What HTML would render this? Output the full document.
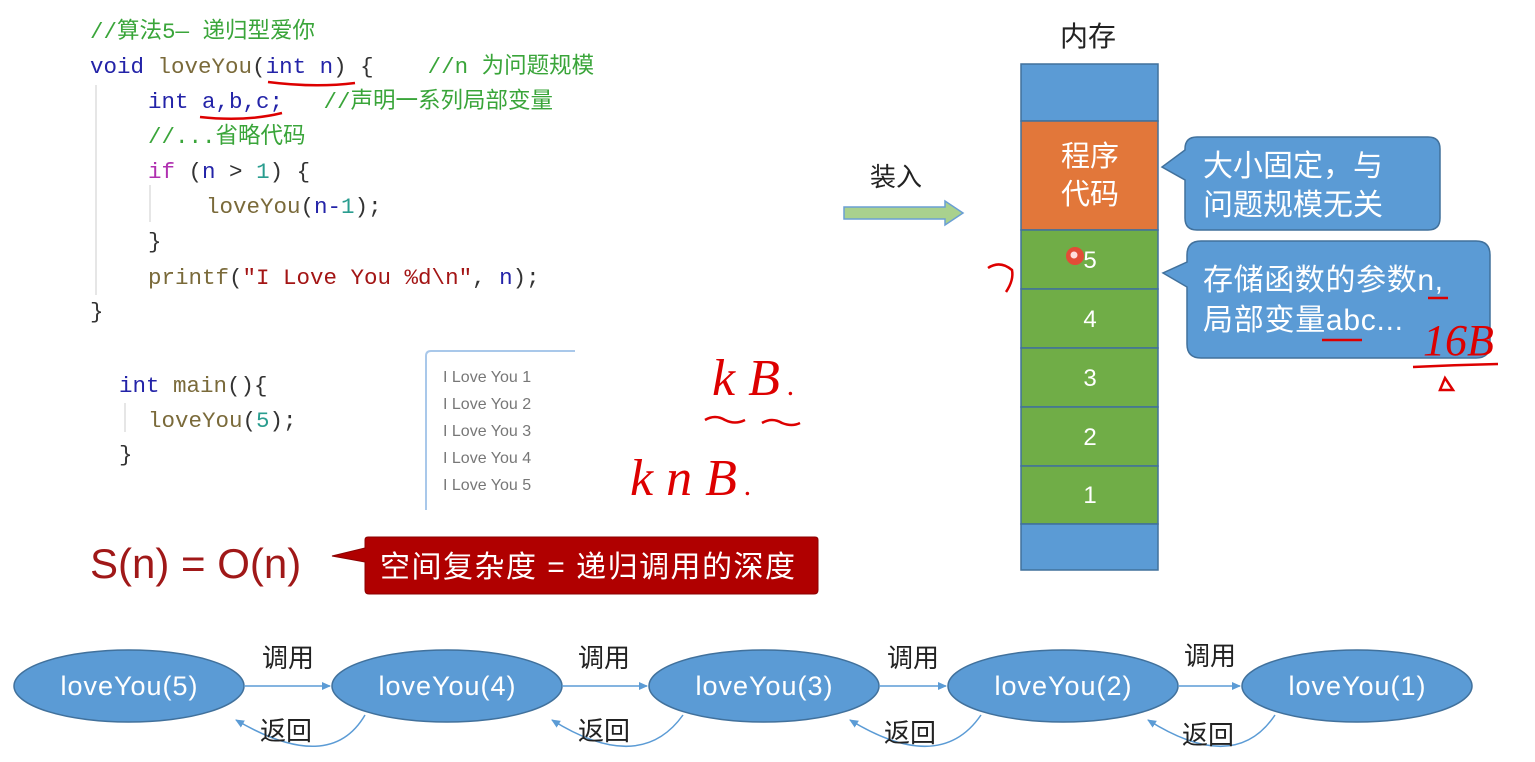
<!DOCTYPE html>
<html><head><meta charset="utf-8"><style>
body{margin:0;background:#fff;width:1535px;height:762px;overflow:hidden}
svg{display:block}
.c{font-family:"Liberation Mono","Noto Sans CJK SC",monospace;font-size:22.5px}
.s{font-family:"Liberation Sans","Noto Sans CJK SC",sans-serif}
</style></head><body>
<svg width="1535" height="762" xmlns="http://www.w3.org/2000/svg">
<defs><marker id="a" markerWidth="10" markerHeight="10" refX="8" refY="5" orient="auto" markerUnits="userSpaceOnUse"><path d="M0,1 L9,5 L0,9 z" fill="#5b9bd5"/></marker></defs>
<g class="c">
<text x="90" y="38" fill="#3aa53a">//算法5— 递归型爱你</text>
<text x="90" y="73"><tspan fill="#2323a8">void</tspan>&#160;<tspan fill="#7a6a3a">loveYou</tspan><tspan fill="#333">(</tspan><tspan fill="#2323a8">int&#160;n</tspan><tspan fill="#333">)&#160;{</tspan>&#160;&#160;&#160;&#160;<tspan fill="#3aa53a">//n 为问题规模</tspan></text>
<text x="148" y="108"><tspan fill="#2323a8">int&#160;a,b,c;</tspan>&#160;&#160;&#160;<tspan fill="#3aa53a">//声明一系列局部变量</tspan></text>
<text x="148" y="143" fill="#3aa53a">//...省略代码</text>
<text x="148" y="178"><tspan fill="#b030b0">if</tspan><tspan fill="#333">&#160;(</tspan><tspan fill="#2323a8">n</tspan><tspan fill="#333">&#160;&gt;&#160;</tspan><tspan fill="#2a9d8f">1</tspan><tspan fill="#333">)&#160;{</tspan></text>
<text x="206" y="213"><tspan fill="#7a6a3a">loveYou</tspan><tspan fill="#333">(</tspan><tspan fill="#2323a8">n-</tspan><tspan fill="#2a9d8f">1</tspan><tspan fill="#333">);</tspan></text>
<text x="148" y="248" fill="#333">}</text>
<text x="148" y="284"><tspan fill="#7a6a3a">printf</tspan><tspan fill="#333">(</tspan><tspan fill="#a31515">"I&#160;Love&#160;You&#160;%d\n"</tspan><tspan fill="#333">,&#160;</tspan><tspan fill="#2323a8">n</tspan><tspan fill="#333">);</tspan></text>
<text x="90" y="318" fill="#333">}</text>
<text x="119" y="392"><tspan fill="#2323a8">int</tspan>&#160;<tspan fill="#7a6a3a">main</tspan><tspan fill="#333">(){</tspan></text>
<text x="148" y="427"><tspan fill="#7a6a3a">loveYou</tspan><tspan fill="#333">(</tspan><tspan fill="#2a9d8f">5</tspan><tspan fill="#333">);</tspan></text>
<text x="119" y="461" fill="#333">}</text>
</g>
<g stroke="#ddd" stroke-width="1.5"><line x1="96" y1="85" x2="96" y2="295"/><line x1="150" y1="185" x2="150" y2="222"/><line x1="125" y1="403" x2="125" y2="432"/></g>
<g stroke="#d00" stroke-width="2.5" fill="none"><path d="M268,82 Q315,88 355,83"/><path d="M200,117 Q245,122 282,113"/></g>
<path d="M426,510 V356 Q426,351 431,351 H575" stroke="#a9c8ea" stroke-width="2" fill="none"/>
<g class="s" font-size="16" fill="#777">
<text x="443" y="382">I Love You 1</text><text x="443" y="409">I Love You 2</text><text x="443" y="436">I Love You 3</text><text x="443" y="463">I Love You 4</text><text x="443" y="490">I Love You 5</text></g>
<g fill="#d00" font-family="Liberation Serif,serif" font-style="italic" font-size="52">
<text x="712" y="395">k B<tspan font-size="30"> .</tspan></text>
<text x="630" y="495">k n B<tspan font-size="30"> .</tspan></text></g>
<g stroke="#d00" stroke-width="2.5" fill="none"><path d="M705,420 q10,-6 20,0 q10,5 20,0 M762,423 q10,-6 20,0 q10,4 18,0"/></g>
<text x="90" y="578" class="s" font-size="42" fill="#a01818">S(n) = O(n)</text>
<path d="M365,540 Q365,537 368,537 H815 Q818,537 818,540 V590 Q818,594 814,594 H369 Q365,594 365,590 V562 L332,556 L365,548 Z" fill="#b00000" stroke="#8b0000"/>
<text x="380" y="577" class="s" font-size="30" fill="#fff" textLength="415">空间复杂度 = 递归调用的深度</text>
<text x="870" y="186" class="s" font-size="26" fill="#222">装入</text>
<path d="M844,207 H945 V201 L963,213 L945,225 V219 H844 Z" fill="#a9d18e" stroke="#6a9fd4" stroke-width="1.5"/>
<text x="1060" y="46" class="s" font-size="28" fill="#222">内存</text>
<g stroke="#41719c" stroke-width="1.5">
<rect x="1021" y="64" width="137" height="57" fill="#5b9bd5"/>
<rect x="1021" y="121" width="137" height="109" fill="#e2773a"/>
<rect x="1021" y="230" width="137" height="59" fill="#70ad47"/>
<rect x="1021" y="289" width="137" height="59" fill="#70ad47"/>
<rect x="1021" y="348" width="137" height="59" fill="#70ad47"/>
<rect x="1021" y="407" width="137" height="59" fill="#70ad47"/>
<rect x="1021" y="466" width="137" height="58" fill="#70ad47"/>
<rect x="1021" y="524" width="137" height="46" fill="#5b9bd5"/></g>
<g class="s" fill="#fff" font-size="24" text-anchor="middle">
<text x="1090" y="166" font-size="29">程序</text><text x="1090" y="204" font-size="29">代码</text>
<text x="1090" y="268">5</text><text x="1090" y="327">4</text><text x="1090" y="386">3</text><text x="1090" y="445">2</text><text x="1090" y="503">1</text></g>
<circle cx="1075" cy="256" r="9" fill="#f33" opacity="0.8"/><circle cx="1074" cy="255" r="3.5" fill="#fdd"/>
<path d="M988,268 q12,-8 24,2 q2,10 -6,22" stroke="#d00" stroke-width="2.5" fill="none"/>
<path d="M1197,137 H1428 Q1440,137 1440,149 V218 Q1440,230 1428,230 H1197 Q1185,230 1185,218 V180 L1162,167 L1185,150 V149 Q1185,137 1197,137 Z" fill="#5b9bd5" stroke="#41719c" stroke-width="1.5"/>
<text x="1203" y="176" class="s" font-size="30" fill="#fff">大小固定，与</text>
<text x="1203" y="215" class="s" font-size="30" fill="#fff">问题规模无关</text>
<path d="M1201,241 H1476 Q1490,241 1490,255 V344 Q1490,358 1476,358 H1201 Q1187,358 1187,344 V287 L1163,273 L1187,262 V255 Q1187,241 1201,241 Z" fill="#5b9bd5" stroke="#41719c" stroke-width="1.5"/>
<text x="1203" y="290" class="s" font-size="30" fill="#fff" textLength="240">存储函数的参数n,</text>
<text x="1203" y="330" class="s" font-size="30" fill="#fff" textLength="200">局部变量abc...</text>
<g stroke="#d00" stroke-width="2.5" fill="none"><path d="M1428,298 h20 M1322,340 h40 M1413,367 q40,-2 85,-3 M1440,390 l5,-12 l8,12 z"/></g>
<text x="1423" y="355" fill="#d00" font-family="Liberation Serif,serif" font-style="italic" font-size="44">16B</text>
<g stroke="#41719c" stroke-width="1.5" fill="#5b9bd5">
<ellipse cx="129" cy="686" rx="115" ry="36"/><ellipse cx="447" cy="686" rx="115" ry="36"/><ellipse cx="764" cy="686" rx="115" ry="36"/><ellipse cx="1063" cy="686" rx="115" ry="36"/><ellipse cx="1357" cy="686" rx="115" ry="36"/></g>
<g class="s" fill="#fff" font-size="27" text-anchor="middle">
<text x="129" y="695" textLength="137">loveYou(5)</text><text x="447" y="695" textLength="137">loveYou(4)</text><text x="764" y="695" textLength="137">loveYou(3)</text><text x="1063" y="695" textLength="137">loveYou(2)</text><text x="1357" y="695" textLength="137">loveYou(1)</text></g>
<g stroke="#5b9bd5" stroke-width="1.5" fill="none" marker-end="url(#a)">
<line x1="244" y1="686" x2="330" y2="686"/><line x1="562" y1="686" x2="647" y2="686"/><line x1="879" y1="686" x2="946" y2="686"/><line x1="1178" y1="686" x2="1240" y2="686"/>
<path d="M365,715 Q330,775 236,720" /><path d="M683,715 Q640,775 552,720"/><path d="M981,715 Q940,775 850,720"/><path d="M1275,715 Q1235,775 1148,720"/></g>
<g class="s" fill="#222" font-size="26" text-anchor="middle">
<text x="288" y="667">调用</text><text x="604" y="667">调用</text><text x="913" y="667">调用</text><text x="1210" y="665">调用</text>
<text x="286" y="740">返回</text><text x="604" y="740">返回</text><text x="910" y="742">返回</text><text x="1208" y="744">返回</text></g>
</svg>
</body></html>
